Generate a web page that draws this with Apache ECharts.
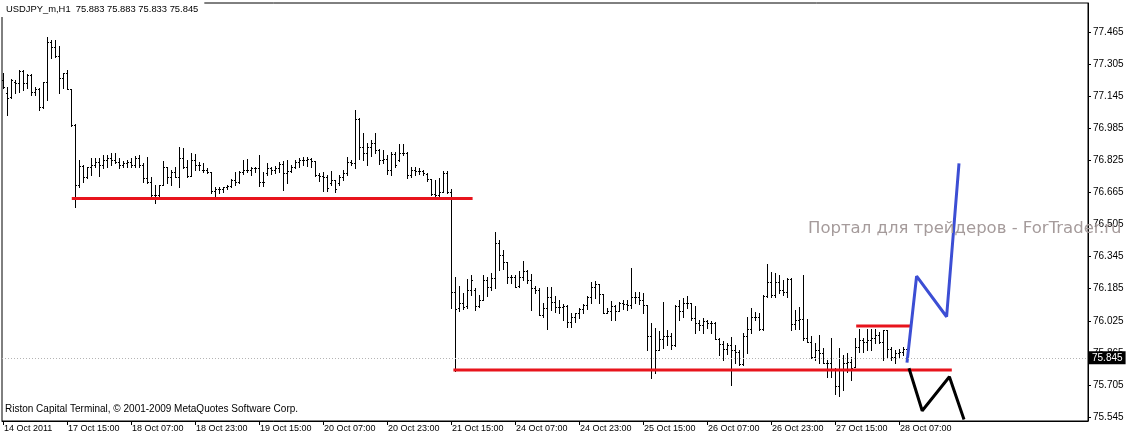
<!DOCTYPE html>
<html><head><meta charset="utf-8">
<script src="https://cdn.jsdelivr.net/npm/echarts@6/dist/echarts.min.js"></script>
<style>html,body{margin:0;padding:0;background:#fff}#c{width:1127px;height:436px}</style>
</head><body><div id="c"></div>
<script>
// ---- data (USDJPY_m, H1) ----
const openP = [
77.226,77.159,77.142,77.217,77.209,77.272,77.209,77.251,77.167,77.179,
77.089,77.214,77.417,77.392,77.345,77.234,77.259,77.179,76.999,76.702,
76.797,76.743,76.790,76.802,76.818,76.802,76.827,76.835,76.827,76.818,
76.802,76.810,76.818,76.802,76.835,76.802,76.735,76.718,76.652,76.652,
76.702,76.793,76.743,76.768,76.743,76.835,76.793,76.747,76.827,76.802,
76.777,76.777,76.768,76.674,76.680,76.680,76.690,76.697,76.727,76.719,
76.768,76.777,76.777,76.785,76.785,76.719,76.760,76.785,76.777,76.785,
76.807,76.764,76.773,76.793,76.818,76.827,76.827,76.830,76.823,76.752,
76.747,76.740,76.710,76.727,76.710,76.744,76.764,76.818,76.810,77.030,
76.893,76.860,76.893,76.910,76.877,76.827,76.830,76.777,76.857,76.827,
76.863,76.860,76.752,76.777,76.773,76.773,76.757,76.730,76.657,76.652,
76.669,76.764,76.669,76.168,76.087,76.115,76.098,76.178,76.178,76.098,
76.128,76.228,76.195,76.236,76.411,76.353,76.320,76.245,76.245,76.198,
76.245,76.275,76.228,76.187,76.178,76.054,76.087,76.145,76.120,76.095,
76.092,76.098,76.020,76.042,76.062,76.082,76.103,76.145,76.195,76.208,
76.158,76.065,76.075,76.098,76.075,76.115,76.108,76.103,76.142,76.142,
76.129,76.104,75.949,75.779,75.879,75.932,75.949,75.949,75.904,76.099,
76.075,76.112,76.112,76.037,76.015,76.004,76.025,76.015,76.012,75.932,
75.909,75.883,75.904,75.879,75.871,75.809,75.949,75.982,76.045,76.045,
75.982,76.149,76.219,76.153,76.219,76.178,76.169,76.231,76.011,76.028,
76.036,75.937,75.920,75.845,75.878,75.862,75.812,75.812,75.779,75.699,
75.779,75.812,75.820,75.795,75.892,75.928,75.920,75.928,75.937,75.953,
75.920,75.978,75.882,75.845,75.862,75.870,75.883];
const highP = [
77.259,77.192,77.229,77.226,77.275,77.275,77.254,77.254,77.192,77.184,
77.217,77.438,77.425,77.425,77.395,77.262,77.275,77.179,77.004,76.827,
76.802,76.793,76.835,76.835,76.835,76.852,76.852,76.860,76.863,76.835,
76.823,76.827,76.835,76.847,76.852,76.810,76.843,76.743,76.702,76.702,
76.823,76.793,76.777,76.793,76.893,76.885,76.827,76.860,76.857,76.818,
76.813,76.785,76.768,76.694,76.690,76.694,76.702,76.730,76.768,76.773,
76.827,76.830,76.793,76.793,76.852,76.768,76.813,76.793,76.797,76.818,
76.823,76.827,76.802,76.827,76.835,76.840,76.843,76.835,76.823,76.760,
76.768,76.752,76.773,76.727,76.752,76.777,76.840,76.827,77.076,77.035,
76.960,76.910,76.926,76.960,76.880,76.877,76.852,76.868,76.868,76.907,
76.907,76.868,76.793,76.790,76.785,76.777,76.764,76.730,76.727,76.735,
76.773,76.773,76.680,76.245,76.198,76.162,76.231,76.253,76.187,76.153,
76.253,76.245,76.261,76.469,76.428,76.378,76.320,76.253,76.253,76.275,
76.325,76.278,76.258,76.198,76.187,76.115,76.192,76.192,76.148,76.128,
76.108,76.103,76.062,76.065,76.087,76.108,76.148,76.220,76.225,76.208,
76.158,76.087,76.125,76.103,76.120,76.128,76.128,76.286,76.170,76.170,
76.165,76.104,76.012,75.987,75.976,76.120,75.979,75.966,76.104,76.129,
76.137,76.149,76.112,76.099,76.029,76.037,76.029,76.025,76.020,75.937,
75.926,75.912,75.942,75.904,75.879,75.962,76.045,76.087,76.070,76.062,
76.154,76.308,76.269,76.261,76.252,76.228,76.236,76.236,76.081,76.095,
76.252,76.036,75.948,75.912,75.953,75.887,75.829,75.937,75.787,75.887,
75.853,75.862,75.845,75.937,75.986,75.937,75.986,75.986,75.986,75.970,
75.981,75.978,75.895,75.878,75.882,75.892,75.883];
const lowP = [
77.184,77.051,77.134,77.159,77.167,77.176,77.184,77.151,77.151,77.076,
77.084,77.126,77.334,77.342,77.159,77.184,77.179,76.996,76.594,76.694,
76.718,76.735,76.752,76.793,76.747,76.785,76.793,76.802,76.810,76.785,
76.793,76.793,76.793,76.793,76.793,76.718,76.713,76.644,76.614,76.647,
76.702,76.710,76.702,76.743,76.694,76.785,76.743,76.747,76.777,76.777,
76.768,76.764,76.664,76.647,76.660,76.669,76.680,76.690,76.702,76.710,
76.757,76.768,76.752,76.768,76.697,76.697,76.752,76.757,76.760,76.768,
76.677,76.714,76.768,76.785,76.793,76.802,76.797,76.793,76.747,76.724,
76.674,76.674,76.702,76.669,76.702,76.727,76.752,76.802,76.785,76.830,
76.827,76.802,76.847,76.860,76.807,76.813,76.757,76.752,76.793,76.823,
76.852,76.735,76.744,76.752,76.757,76.752,76.724,76.652,76.644,76.644,
76.669,76.660,76.088,75.775,76.075,76.082,76.087,76.153,76.079,76.092,
76.128,76.148,76.178,76.187,76.278,76.281,76.215,76.212,76.195,76.195,
76.228,76.215,76.079,76.162,76.054,76.045,75.982,76.079,76.070,76.062,
76.029,75.995,75.995,76.020,76.037,76.062,76.082,76.115,76.137,76.112,
76.062,76.062,76.029,76.029,76.075,76.082,76.079,76.087,76.112,76.108,
76.065,75.879,75.738,75.763,75.879,75.888,75.904,75.883,75.899,76.029,
76.045,76.087,76.029,75.966,75.979,75.966,75.987,75.962,75.932,75.854,
75.829,75.859,75.705,75.813,75.804,75.804,75.863,75.966,76.029,75.979,
75.979,76.145,76.144,76.144,76.161,76.153,76.144,75.978,75.986,75.986,
75.928,75.920,75.837,75.829,75.812,75.812,75.745,75.745,75.662,75.649,
75.679,75.770,75.729,75.795,75.870,75.870,75.878,75.878,75.912,75.912,
75.829,75.837,75.829,75.812,75.837,75.853,75.833];
const closeP = [
77.192,77.134,77.226,77.209,77.272,77.209,77.251,77.167,77.179,77.089,
77.214,77.417,77.392,77.345,77.234,77.259,77.179,76.999,76.702,76.797,
76.743,76.790,76.802,76.818,76.802,76.827,76.835,76.827,76.818,76.802,
76.810,76.818,76.802,76.835,76.802,76.735,76.718,76.652,76.652,76.702,
76.793,76.743,76.768,76.743,76.835,76.793,76.747,76.827,76.802,76.802,
76.777,76.768,76.674,76.680,76.680,76.690,76.697,76.727,76.719,76.768,
76.777,76.777,76.785,76.785,76.719,76.719,76.785,76.777,76.785,76.807,
76.764,76.773,76.793,76.818,76.827,76.827,76.830,76.823,76.752,76.747,
76.740,76.685,76.727,76.680,76.744,76.764,76.818,76.810,77.030,76.893,
76.860,76.893,76.910,76.877,76.827,76.830,76.777,76.857,76.802,76.863,
76.863,76.752,76.777,76.773,76.773,76.760,76.730,76.657,76.652,76.669,
76.764,76.669,76.168,76.085,76.115,76.095,76.178,76.228,76.098,76.128,
76.228,76.195,76.236,76.411,76.353,76.320,76.245,76.245,76.195,76.245,
76.275,76.228,76.187,76.178,76.054,76.087,76.145,76.120,76.095,76.092,
76.098,76.020,76.042,76.062,76.082,76.103,76.145,76.195,76.208,76.158,
76.065,76.075,76.098,76.075,76.115,76.108,76.103,76.142,76.142,76.128,
76.104,75.949,75.779,75.879,75.932,75.949,75.949,75.904,76.099,76.075,
76.112,76.112,76.037,76.015,76.004,76.025,76.015,76.012,75.932,75.909,
75.883,75.904,75.879,75.871,75.809,75.949,75.982,76.045,76.045,75.982,
76.149,76.220,76.153,76.219,76.178,76.169,76.231,76.011,76.028,76.036,
75.937,75.920,75.845,75.878,75.862,75.812,75.812,75.779,75.699,75.779,
75.812,75.820,75.787,75.892,75.928,75.920,75.928,75.937,75.953,75.920,
75.978,75.882,75.845,75.862,75.870,75.882,75.845];

// time-axis tick labels (one every 16 hourly bars)
const tickIdx = [0,16,32,48,64,80,96,112,128,144,160,176,192,208,224];
const tickLabels = ["14 Oct 2011","17 Oct 15:00","18 Oct 07:00","18 Oct 23:00","19 Oct 15:00",
  "20 Oct 07:00","20 Oct 23:00","21 Oct 15:00","24 Oct 07:00","24 Oct 23:00","25 Oct 15:00",
  "26 Oct 07:00","26 Oct 23:00","27 Oct 15:00","28 Oct 07:00"];
// price-axis tick labels
const priceTicks = [75.545,75.705,75.865,76.025,76.185,76.345,76.505,76.665,76.825,76.985,77.145,77.305,77.465];
const lastPrice = 75.845;

// drawn lines: [barIndex, price]
const redLine1 = [[17.2,76.635],[117.4,76.635]];
const redLine2 = [[112.6,75.779],[237.2,75.779]];
const redLine3 = [[213.3,75.999],[226.9,75.999]];
const bluePath = [[226,75.816],[228.4,76.248],[235.9,76.045],[239,76.810]];
const blackPath = [[226.5,75.788],[229.8,75.576],[236.6,75.746],[240.25,75.533]];

const headerText = "USDJPY_m,H1  75.883 75.883 75.833 75.845";
const copyText = "Riston Capital Terminal, \u00a9 2001-2009 MetaQuotes Software Corp.";
const watermark = "Портал для трейдеров - ForTrader.ru";

const FONT = '"Liberation Sans", Arial, sans-serif';
const ohlc = openP.map((o,i)=>[i,o,highP[i],lowP[i],closeP[i]]);

function renderBar(params, api){
  const i = api.value(0);
  const pH = api.coord([i, api.value(2)]);
  const pL = api.coord([i, api.value(3)]);
  const pO = api.coord([i, api.value(1)]);
  const pC = api.coord([i, api.value(4)]);
  const x = Math.floor(pH[0]);
  const yH = Math.round(pH[1]), yL = Math.round(pL[1]);
  const yO = Math.round(pO[1]), yC = Math.round(pC[1]);
  const st = {fill:'#000'};
  return {type:'group', children:[
    {type:'rect', shape:{x:x, y:yH, width:1, height:Math.max(1,yL-yH+1)}, style:st},
    {type:'rect', shape:{x:x-1, y:yO, width:1, height:1}, style:st},
    {type:'rect', shape:{x:x+1, y:yC, width:1, height:1}, style:st}
  ]};
}

function lineSeries(data, color){
  return {type:'line', data:data, symbol:'none', silent:true, z:3,
    lineStyle:{color:color, width:3}};
}

const chart = echarts.init(document.getElementById('c'), null, {renderer:'canvas'});
chart.setOption({
  animation:false,
  backgroundColor:'#fff',
  title:[
    {text:headerText, left:0, top:0, padding:[5,6,3,6], backgroundColor:'#fff', z:10,
      textStyle:{fontSize:9.4, fontWeight:'normal', color:'#000', fontFamily:FONT}},
    {text:copyText, left:5, top:404, padding:0,
      textStyle:{fontSize:10, fontWeight:'normal', color:'#000', fontFamily:FONT}},
    {text:watermark, left:808, top:220, padding:0, z:10,
      textStyle:{fontSize:16.5, fontWeight:'normal', color:'#a59b9b', fontFamily:'"DejaVu Sans", Verdana, sans-serif'}}
  ],
  grid:{left:2, top:3, right:39, bottom:15, show:true, borderColor:'#000', borderWidth:1,
    backgroundColor:'#fff', outerBoundsMode:'none'},
  xAxis:{type:'value', min:-0.25, max:271.25,
    axisLine:{show:true, onZero:false, lineStyle:{color:'#000', width:1}},
    axisTick:{show:true, length:4, customValues:tickIdx, lineStyle:{color:'#000'}},
    axisLabel:{customValues:tickIdx, align:'left', margin:3, padding:[0,0,0,1],
      fontSize:9, color:'#000', fontFamily:FONT,
      formatter:function(v){const k = tickIdx.indexOf(Math.round(v)); return k>=0 ? tickLabels[k] : '';}},
    splitLine:{show:false}},
  yAxis:{type:'value', position:'right', min:75.525, max:77.610, scale:true,
    axisLine:{show:true, onZero:false, lineStyle:{color:'#000', width:1}},
    axisTick:{show:true, length:3, customValues:priceTicks, lineStyle:{color:'#000'}},
    axisLabel:{customValues:priceTicks, margin:5, fontSize:10, color:'#000', fontFamily:FONT,
      formatter:function(v){return v.toFixed(3);}},
    splitLine:{show:false}},
  series:[
    {type:'custom', name:'bars', data:ohlc, renderItem:renderBar, encode:{x:0, y:[1,2,3,4]},
      silent:true, z:2,
      markLine:{silent:true, symbol:['none','none'], animation:false,
        data:[{yAxis:lastPrice}],
        lineStyle:{color:'#b4b4b4', type:[1,2], width:1},
        label:{show:true, position:'end', distance:1, formatter:lastPrice.toFixed(3),
          color:'#fff', backgroundColor:'#000', padding:[2,3,1,3], fontSize:10, fontFamily:FONT}}},
    lineSeries(redLine1,'#e8141c'),
    lineSeries(redLine2,'#e8141c'),
    lineSeries(redLine3,'#e8141c'),
    lineSeries(bluePath,'#3c4ed4'),
    lineSeries(blackPath,'#000')
  ]
});
</script>
</body></html>
